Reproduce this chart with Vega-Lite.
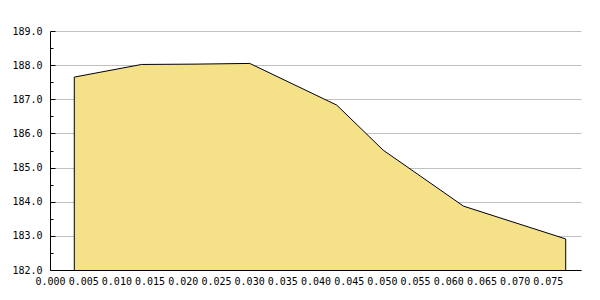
{
  "$schema": "https://vega.github.io/schema/vega-lite/v6.json",
  "autosize": "none",
  "width": 531,
  "height": 239,
  "padding": {"left": 50, "top": 31, "right": 19, "bottom": 30},
  "background": "white",
  "config": {
    "view": {"stroke": null},
    "axis": {
      "labelFont": "DejaVu Sans Mono",
      "labelFontSize": 10,
      "labelColor": "black",
      "domainColor": "black",
      "tickColor": "black",
      "gridColor": "#c0c0c0",
      "title": null
    }
  },
  "data": {
    "values": [
      {"x": 0.00366, "y": 187.65},
      {"x": 0.0138, "y": 188.02},
      {"x": 0.022, "y": 188.03},
      {"x": 0.0301, "y": 188.05},
      {"x": 0.0432, "y": 186.83},
      {"x": 0.0502, "y": 185.51},
      {"x": 0.0623, "y": 183.87},
      {"x": 0.0777, "y": 182.91}
    ]
  },
  "mark": {"type": "area", "fill": "#f5e188", "stroke": "black", "strokeWidth": 1, "clip": true, "interpolate": "linear"},
  "encoding": {
    "x": {
      "field": "x",
      "type": "quantitative",
      "scale": {"domain": [0, 0.08], "nice": false, "zero": false},
      "axis": {
        "values": [0, 0.005, 0.01, 0.015, 0.02, 0.025, 0.03, 0.035, 0.04, 0.045, 0.05, 0.055, 0.06, 0.065, 0.07, 0.075],
        "format": ".3f",
        "grid": false,
        "tickSize": -5,
        "labelPadding": 11,
        "labelFlush": false,
        "labelOverlap": false
      }
    },
    "y": {
      "field": "y",
      "type": "quantitative",
      "scale": {"domain": [182, 189], "nice": false, "zero": false},
      "axis": {
        "values": [182, 182.5, 183, 183.5, 184, 184.5, 185, 185.5, 186, 186.5, 187, 187.5, 188, 188.5, 189],
        "labelExpr": "datum.value % 1 === 0 ? format(datum.value, '.1f') : ''",
        "grid": true,
        "gridOpacity": {"condition": {"test": "datum.value % 1 === 0", "value": 1}, "value": 0},
        "tickSize": {"condition": {"test": "datum.value % 1 === 0", "value": -5}, "value": -3},
        "labelPadding": 13,
        "labelOverlap": false,
        "labelFlush": false
      }
    }
  }
}
